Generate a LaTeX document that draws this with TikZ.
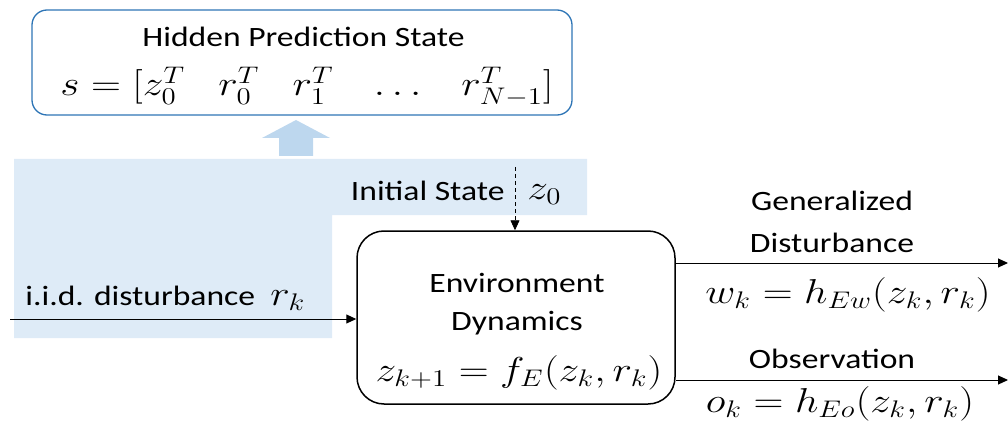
\documentclass[tikz,border=0pt]{standalone}
\usepackage{fontspec}
\setmainfont{Carlito}
\usetikzlibrary{arrows.meta}
\definecolor{shadecol}{HTML}{DEEBF7}
\definecolor{barrowcol}{HTML}{BDD7EE}
\definecolor{bbordercol}{HTML}{2E75B6}
\begin{document}
\begin{tikzpicture}[x=1pt,y=-1pt,
  txt/.style={inner sep=0pt, font=\fontsize{14}{17}\selectfont, xscale=2.4, yscale=2, transform shape},
  mtxt/.style={inner sep=0pt, font=\fontsize{17.28}{20}\selectfont, xscale=2.4, yscale=2, transform shape},
  conn/.style={line width=1pt, -{Triangle[length=10pt,width=9pt]}},
  dconn/.style={conn, line width=0.8pt, dash pattern=on 4pt off 3pt},
  boxstyle/.style={draw, inner sep=0pt, line width=1.5pt}]
\useasboundingbox (0,0) rectangle (1008,422);
% shaded region
\fill[shadecol] (14,159) -- (587,159) -- (587,215) -- (332,215) -- (332,338) -- (14,338) -- cycle;
% block arrow
\fill[barrowcol] (296,120) -- (330,138) -- (313,138) -- (313,156) -- (279,156) -- (279,138) -- (262,138) -- cycle;
% top box
\node[boxstyle, draw=bbordercol, line width=1.3pt, rounded corners=15pt, minimum width=540pt, minimum height=105pt] (hps) at (302,62.5) {};
\node[txt, anchor=base] (hpst) at (303.5,47) {Hidden Prediction State};
\node[mtxt, anchor=base] (hpsm) at (307,96) {$s=\bigl[z_0^T\hspace{0.8em}r_0^T\hspace{0.8em}r_1^T\hspace{0.8em}\dots\hspace{0.8em}r_{N-1}^T\bigr]$};
% environment box
\node[boxstyle, rounded corners=27pt, minimum width=318pt, minimum height=173pt] (env) at (516,317.5) {};
\node[txt, anchor=base] (envt1) at (517,292) {Environment};
\node[txt, anchor=base] (envt2) at (517,330) {Dynamics};
\node[mtxt, anchor=base] (envm) at (519,381) {$z_{k+1}=f_E(z_k,r_k)$};
% initial state
\node[txt, anchor=base east] (ist) at (505,200) {Initial State};
\node[mtxt, anchor=base west] (isz) at (527,199) {$z_0$};
\coordinate (z0s) at (515,167);
\draw[dconn] (z0s) -- (z0s |- env.north);
% input
\node[txt, anchor=base west] (iid) at (25,305) {i.i.d. disturbance\ \ \fontsize{17.28}{20}\selectfont$r_k$};
\coordinate (inp) at (10,319);
\draw[conn] (inp) -- (inp -| env.west);
% outputs
\coordinate (wout) at (1008,263);
\coordinate (oout) at (1008,380);
\draw[conn] (wout -| env.east) -- (wout);
\draw[conn] (oout -| env.east) -- (oout);
\node[txt, anchor=base] (gen1) at (832,210) {Generalized};
\node[txt, anchor=base] (gen2) at (832,252) {Disturbance};
\node[mtxt, anchor=base] (wk) at (848,303) {$w_k=h_{Ew}(z_k,r_k)$};
\node[txt, anchor=base] (obs) at (832,368) {Observation};
\node[mtxt, anchor=base] (ok) at (840,412) {$o_k=h_{Eo}(z_k,r_k)$};
\end{tikzpicture}
\end{document}
